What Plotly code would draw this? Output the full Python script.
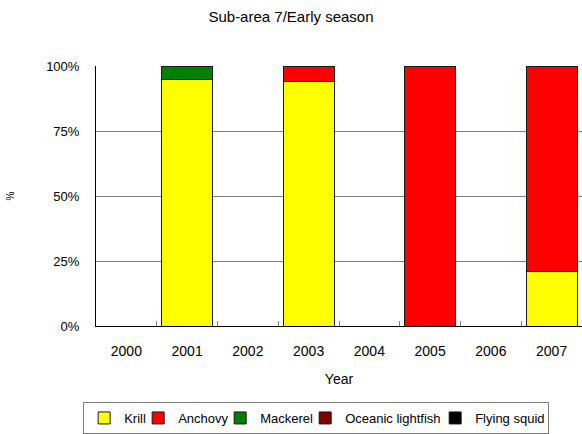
import plotly.graph_objects as go

years = ["2000", "2001", "2002", "2003", "2004", "2005", "2006", "2007"]
krill = [0, 95, 0, 94, 0, 0, 0, 21]
anchovy = [0, 0, 0, 6, 0, 100, 0, 79]
mackerel = [0, 5, 0, 0, 0, 0, 0, 0]
lightfish = [0, 0, 0, 0, 0, 0, 0, 0]
squid = [0, 0, 0, 0, 0, 0, 0, 0]

series_names = ["Krill", "Anchovy", "Mackerel", "Oceanic lightfish", "Flying squid"]
series_values = [krill, anchovy, mackerel, lightfish, squid]
series_colors = ["#FFFF00", "#FF0000", "#008000", "#800000", "#000000"]
# legend entry widths (px), tightened so the legend fits on one row
legend_widths = [9, 37, 40, 85, 68]

fig = go.Figure()
for name, vals, col, lw in zip(series_names, series_values, series_colors, legend_widths):
    fig.add_trace(go.Bar(
        x=years, y=vals, name=name, legendwidth=lw,
        marker=dict(color=col, line=dict(color="#1a1a1a", width=1)),
    ))

W, H = 582, 434
font = "Liberation Sans, Arial, sans-serif"
fig.update_layout(
    width=W, height=H,
    barmode="stack", bargap=0.16,
    plot_bgcolor="white", paper_bgcolor="white",
    margin=dict(l=96, r=0, t=66, b=108),
    font=dict(family=font, size=14, color="black"),
    title=dict(text="Sub-area 7/Early season", x=0.5, xanchor="center",
               xref="container",
               y=1 - 17 / H, yanchor="middle", font=dict(size=15)),
    xaxis=dict(
        type="category", title=dict(text="Year", standoff=16, font=dict(size=14)),
        showline=True, linecolor="black", linewidth=1,
        ticks="inside", tickson="boundaries", ticklen=5, tickcolor="#808080",
        showgrid=False, ticklabelstandoff=12, automargin=False,
        tickfont=dict(size=14),
    ),
    yaxis=dict(
        range=[0, 100], tickvals=[0, 25, 50, 75, 100],
        ticktext=["0%", "25%", "50%", "75%", "100%"],
        showline=True, linecolor="black", linewidth=1,
        showgrid=True, gridcolor="#808080", gridwidth=1,
        ticks="", ticklabelstandoff=13, zeroline=False, automargin=False,
        tickfont=dict(size=13),
        title=dict(text="%", standoff=29, font=dict(size=10)),
    ),
    legend=dict(
        orientation="h", x=0.453, xanchor="center", y=-0.294, yanchor="top",
        bordercolor="#808080", borderwidth=1, font=dict(size=13),
        traceorder="normal", tracegroupgap=0,
    ),
)

fig.write_html(
    "out.html",
    config={"displayModeBar": False},
    post_script="document.body.style.margin='0';document.body.style.overflow='hidden';",
)
